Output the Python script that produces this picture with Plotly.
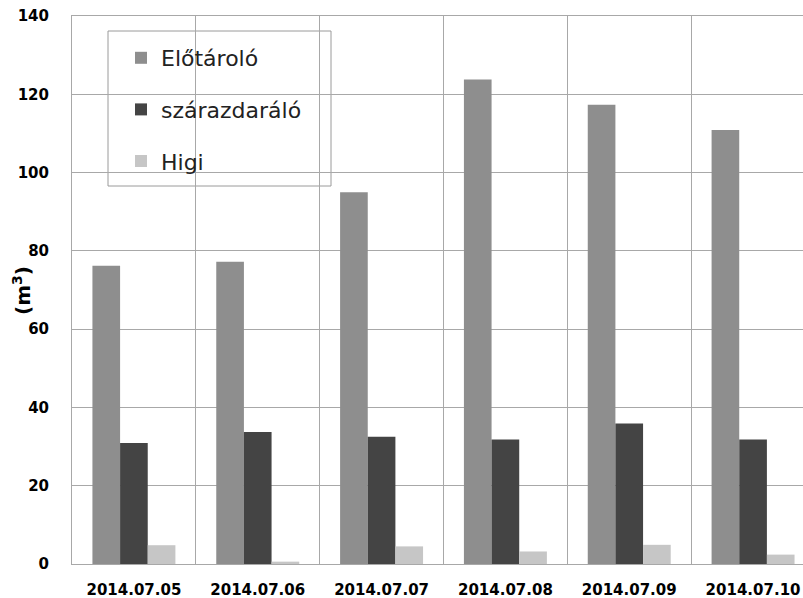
import plotly.graph_objects as go

categories = ["2014.07.05", "2014.07.06", "2014.07.07", "2014.07.08", "2014.07.09", "2014.07.10"]
elotarolo = [76.2, 77.2, 95.0, 123.8, 117.3, 110.9]
szarazdaralo = [30.9, 33.7, 32.5, 31.8, 35.9, 31.8]
higi = [4.8, 0.6, 4.5, 3.2, 4.9, 2.4]
y_ticks = [0, 20, 40, 60, 80, 100, 120, 140]
y_title = "(m<sup>3</sup>)"

series = [("Előtároló", elotarolo, "#8e8e8e"),
          ("szárazdaráló", szarazdaralo, "#444444"),
          ("Higi", higi, "#c6c6c6")]

W, H = 803, 598
L, T, B, R = 72, 16, 34, 0
PW, PH = W - L - R, H - T - B

fig = go.Figure()
for i, (name, vals, col) in enumerate(series):
    fig.add_trace(go.Bar(x=categories, y=vals, name=name, marker_color=col,
                         marker_line_width=0, legendgroup=str(i)))

def px_x(x):  # page x -> paper fraction
    return (x - L) / PW

def px_y(y):
    return 1 - (y - T) / PH

fig.update_layout(
    width=W, height=H,
    margin=dict(l=L, r=R, t=T, b=B, pad=0, autoexpand=False),
    paper_bgcolor="white", plot_bgcolor="white",
    barmode="group", bargap=0.33, bargroupgap=0,
    font=dict(family="DejaVu Sans, Verdana, sans-serif", color="black"),
    legend=dict(x=px_x(121), y=px_y(37), xanchor="left", yanchor="top",
                bgcolor="rgba(0,0,0,0)", borderwidth=0,
                font=dict(size=22, family="DejaVu Sans, Verdana, sans-serif", color="#222"),
                traceorder="grouped", tracegroupgap=20),
    shapes=[dict(type="rect", xref="paper", yref="paper",
                 x0=px_x(108), x1=px_x(331), y0=px_y(186), y1=px_y(31),
                 line=dict(color="#9a9a9a", width=1), fillcolor="white", layer="below")],
    annotations=[dict(text=f"<b>{y_title}</b>", xref="paper", yref="paper",
                      x=px_x(22), y=px_y(291), xanchor="center", yanchor="middle",
                      textangle=-90, showarrow=False,
                      font=dict(size=20, family="DejaVu Sans, Verdana, sans-serif", color="black"))],
    # second, label-less y axis only to draw the short gridline stubs left of the axis
    yaxis2=dict(overlaying="y", side="left", range=[0, 140], tickvals=y_ticks,
                showticklabels=False, ticks="outside", ticklen=5, tickcolor="#a8a8a8",
                showgrid=False, zeroline=False, showline=False, automargin=False),
)

fig.update_xaxes(
    type="category", range=[-0.5, 5.5 - 12 / 124], automargin=False,
    tickson="boundaries", showgrid=True, gridcolor="#a8a8a8", gridwidth=1,
    ticks="", showline=True, mirror=True, linecolor="#a8a8a8",
    tickvals=categories, ticktext=[f"<b>{c}</b>" for c in categories],
    ticklabelstandoff=12, ticklabeloverflow="allow",
    tickfont=dict(size=15, family="DejaVu Sans, Verdana, sans-serif", color="black"),
)
fig.update_layout(yaxis=dict(
    range=[0, 140], tickvals=y_ticks,
    ticktext=[f"<b>{v}</b>" for v in y_ticks],
    automargin=False,
    showgrid=True, gridcolor="#a8a8a8", gridwidth=1,
    ticks="outside", ticklen=19, tickcolor="rgba(0,0,0,0)",
    showline=True, linecolor="#a8a8a8", zeroline=False,
    ticklabeloverflow="allow",
    tickfont=dict(size=15, family="DejaVu Sans, Verdana, sans-serif", color="black"),
))

fig.write_html("out.html", config={"displayModeBar": False},
               post_script="document.body.style.margin='0';document.body.style.overflow='hidden';")
